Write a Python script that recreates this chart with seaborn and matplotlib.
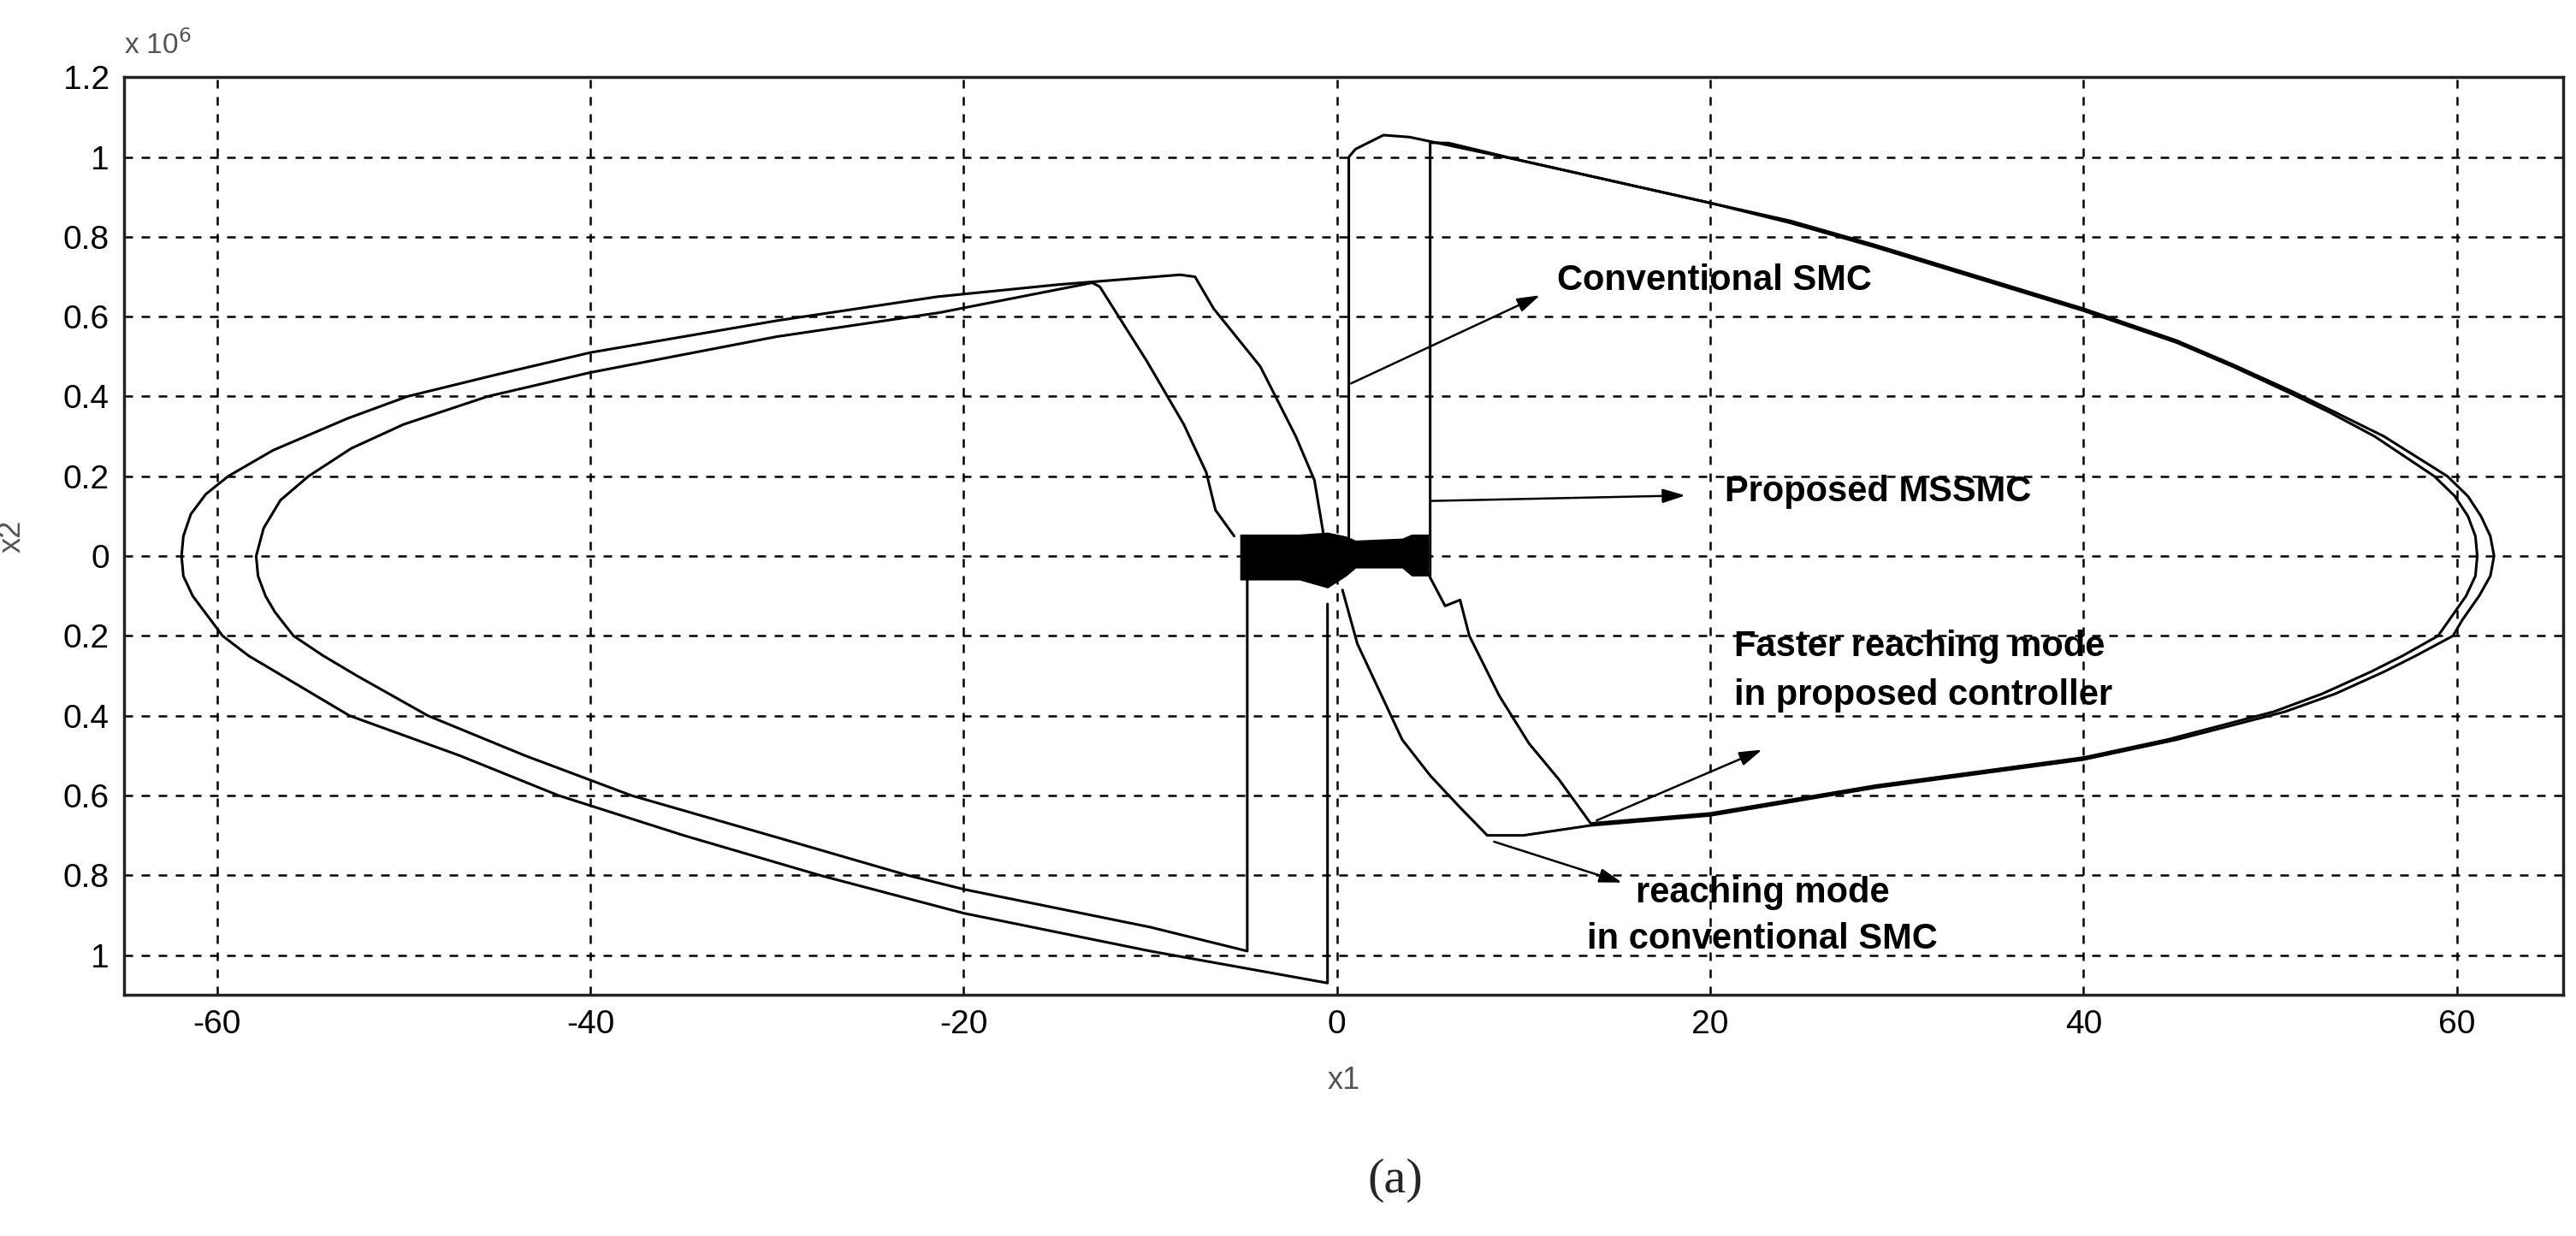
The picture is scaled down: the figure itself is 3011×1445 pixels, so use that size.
import numpy as np
import pandas as pd
import matplotlib
matplotlib.use("Agg")
import matplotlib.pyplot as plt
import seaborn as sns

# phase trajectory values (x2 in units of 1e6)
# conventional SMC (outer loop)
conv_x = [0.64, 0.64, 1.0, 2.5, 3.9, 10, 20, 24.3, 28.8, 40, 45, 48, 51.3, 53.5, 56.1, 57.8, 59.5,
          60.6, 61.3, 61.8, 62.0, 61.8, 61.2, 60.3, 59.8, 57.8, 56.1, 53.5, 50.8, 45, 40, 28.9, 20,
          13.6, 10, 8.06, 6.6, 5.0, 3.5, 2.4, 1.1, 0.3]
conv_y = [0.0, 1.0, 1.02, 1.055, 1.05, 0.99, 0.885, 0.84, 0.78, 0.62, 0.54, 0.48, 0.41, 0.36, 0.30, 0.25, 0.20,
          0.15, 0.10, 0.05, 0.0, -0.05, -0.10, -0.16, -0.20, -0.25, -0.29, -0.345, -0.39, -0.46, -0.51, -0.58, -0.65,
          -0.675, -0.70, -0.70, -0.63, -0.55, -0.46, -0.35, -0.22, -0.085]
conv_left_x = [-0.7, -1.2, -2.2, -4.1, -6.6, -7.6, -8.4, -15, -21.4, -30, -40, -45, -49.8, -53, -57, -59.4,
               -60.6, -61.4, -61.8, -61.9, -61.8, -61.3, -60.5, -59.7, -58.3, -56.5, -52.9, -47, -41.7,
               -35, -27.7, -20, -10, -0.5, -0.5]
conv_left_y = [0.05, 0.19, 0.30, 0.475, 0.62, 0.70, 0.705, 0.68, 0.65, 0.59, 0.51, 0.455, 0.40, 0.345, 0.265, 0.20,
               0.155, 0.105, 0.05, 0.0, -0.05, -0.10, -0.15, -0.20, -0.25, -0.30, -0.40, -0.50, -0.60,
               -0.70, -0.80, -0.895, -0.99, -1.07, -0.12]

# proposed MSSMC (inner loop)
prop_x = [5.0, 5.0, 6.0, 10, 20, 24.3, 28.8, 40, 45, 48, 51.0, 53.2, 55.6, 57.2, 58.8,
          59.9, 60.6, 61.0, 61.1, 61.0, 60.5, 59.6, 59.0, 57.1, 55.4, 52.8, 50.2, 44.5, 40, 28.9, 20, 13.6,
          11.9, 10.3, 8.7, 7.1, 6.6, 5.8, 4.9]
prop_y = [-0.05, 1.036, 1.035, 0.99, 0.885, 0.835, 0.775, 0.615, 0.535, 0.475, 0.41, 0.36, 0.30, 0.25, 0.20,
          0.15, 0.10, 0.05, 0.0, -0.05, -0.10, -0.16, -0.20, -0.25, -0.29, -0.345, -0.39, -0.46, -0.505, -0.575, -0.645, -0.67,
          -0.56, -0.47, -0.35, -0.20, -0.11, -0.125, -0.045]
prop_left_x = [-5.5, -6.5, -7.0, -8.2, -10.2, -12.7, -13.1, -21.3, -30, -40, -45.5, -50, -52.8, -55.1, -56.6,
               -57.5, -57.9, -57.8, -57.4, -56.9, -55.9, -54.3, -52.5, -48.7, -43.5, -37.8, -30, -23,
               -20, -10, -4.8, -4.8]
prop_left_y = [0.05, 0.115, 0.21, 0.33, 0.49, 0.675, 0.685, 0.61, 0.55, 0.46, 0.40, 0.33, 0.27, 0.20, 0.14,
               0.07, 0.0, -0.05, -0.10, -0.14, -0.20, -0.25, -0.30, -0.40, -0.50, -0.60, -0.705, -0.80,
               -0.835, -0.93, -0.99, -0.06]

# chattering band around the origin
chat_x = [-5.2, -2.0, -0.5, 0.5, 1.0, 3.5, 4.0, 4.9]
chat_top = [0.055, 0.055, 0.06, 0.05, 0.04, 0.045, 0.055, 0.055]
chat_bot = [-0.06, -0.06, -0.08, -0.05, -0.03, -0.03, -0.05, -0.05]

xticks = [-60, -40, -20, 0, 20, 40, 60]
yticks = [1.2, 1, 0.8, 0.6, 0.4, 0.2, 0, -0.2, -0.4, -0.6, -0.8, -1]
ytick_labels = ["1.2", "1", "0.8", "0.6", "0.4", "0.2", "0", "0.2", "0.4", "0.6", "0.8", "1"]

sns.set_style("white")
narrow = ["Liberation Sans Narrow", "Liberation Sans", "DejaVu Sans"]
plt.rcParams["font.family"] = narrow

fig = plt.figure(figsize=(30.11, 14.45), dpi=100)
ax = fig.add_axes([0.048, 0.195, 0.947, 0.7425])

for xs, ys in [(conv_x, conv_y), (conv_left_x, conv_left_y),
               (prop_x, prop_y), (prop_left_x, prop_left_y)]:
    df = pd.DataFrame({"x1": xs, "x2": np.array(ys) * 1e6})
    sns.lineplot(data=df, x="x1", y="x2", sort=False, estimator=None,
                 color="black", lw=2.2, ax=ax)

ax.fill_between(chat_x, np.array(chat_bot) * 1e6, np.array(chat_top) * 1e6,
                color="black", lw=0)

ax.set_xlim(-65, 65.7)
ax.set_ylim(-1.1e6, 1.2e6)
ax.set_xticks(xticks)
ax.set_xticklabels([str(t) for t in xticks])
ax.set_yticks([t * 1e6 for t in yticks])
ax.set_yticklabels(ytick_labels)
ax.tick_params(direction="in", length=10, width=2, labelsize=28, colors="black", pad=12)
ax.grid(True, color="black", linestyle=(0, (4, 4)), lw=1.8)
for s in ax.spines.values():
    s.set_color("#222222")
    s.set_linewidth(2.5)

ax.set_xlabel("x1", fontsize=26, color="#555555", labelpad=22)
ax.set_ylabel("x2", fontsize=26, color="#555555", labelpad=30)
ax.text(0.0, 1.025, r"x 10$^{6}$", transform=ax.transAxes, fontsize=24, color="#555555")

bold = dict(fontsize=30, fontweight="bold", color="black", va="center")
arrow = dict(arrowstyle="-|>,head_length=1.6,head_width=0.5", color="black", lw=1.8)

ax.annotate("", xy=(11.0, 0.656e6), xytext=(0.64, 0.43e6), arrowprops=arrow)
ax.text(11.8, 0.69e6, "Conventional SMC", **bold)

ax.annotate("", xy=(18.8, 0.152e6), xytext=(4.9, 0.138e6), arrowprops=arrow)
ax.text(20.8, 0.16e6, "Proposed MSSMC", **bold)

ax.annotate("", xy=(22.9, -0.483e6), xytext=(13.8, -0.665e6), arrowprops=arrow)
ax.text(21.3, -0.227e6, "Faster reaching mode", **bold)
ax.text(21.3, -0.35e6, "in proposed controller", **bold)

ax.annotate("", xy=(15.4, -0.82e6), xytext=(8.3, -0.714e6), arrowprops=arrow)
ax.text(22.8, -0.845e6, "reaching mode", ha="center", **bold)
ax.text(22.8, -0.96e6, "in conventional SMC", ha="center", **bold)

fig.text(0.5415, 0.045, "(a)", fontsize=42, family=["Liberation Serif", "DejaVu Serif"],
         ha="center", va="center")

fig.savefig("out.png", dpi=100)
